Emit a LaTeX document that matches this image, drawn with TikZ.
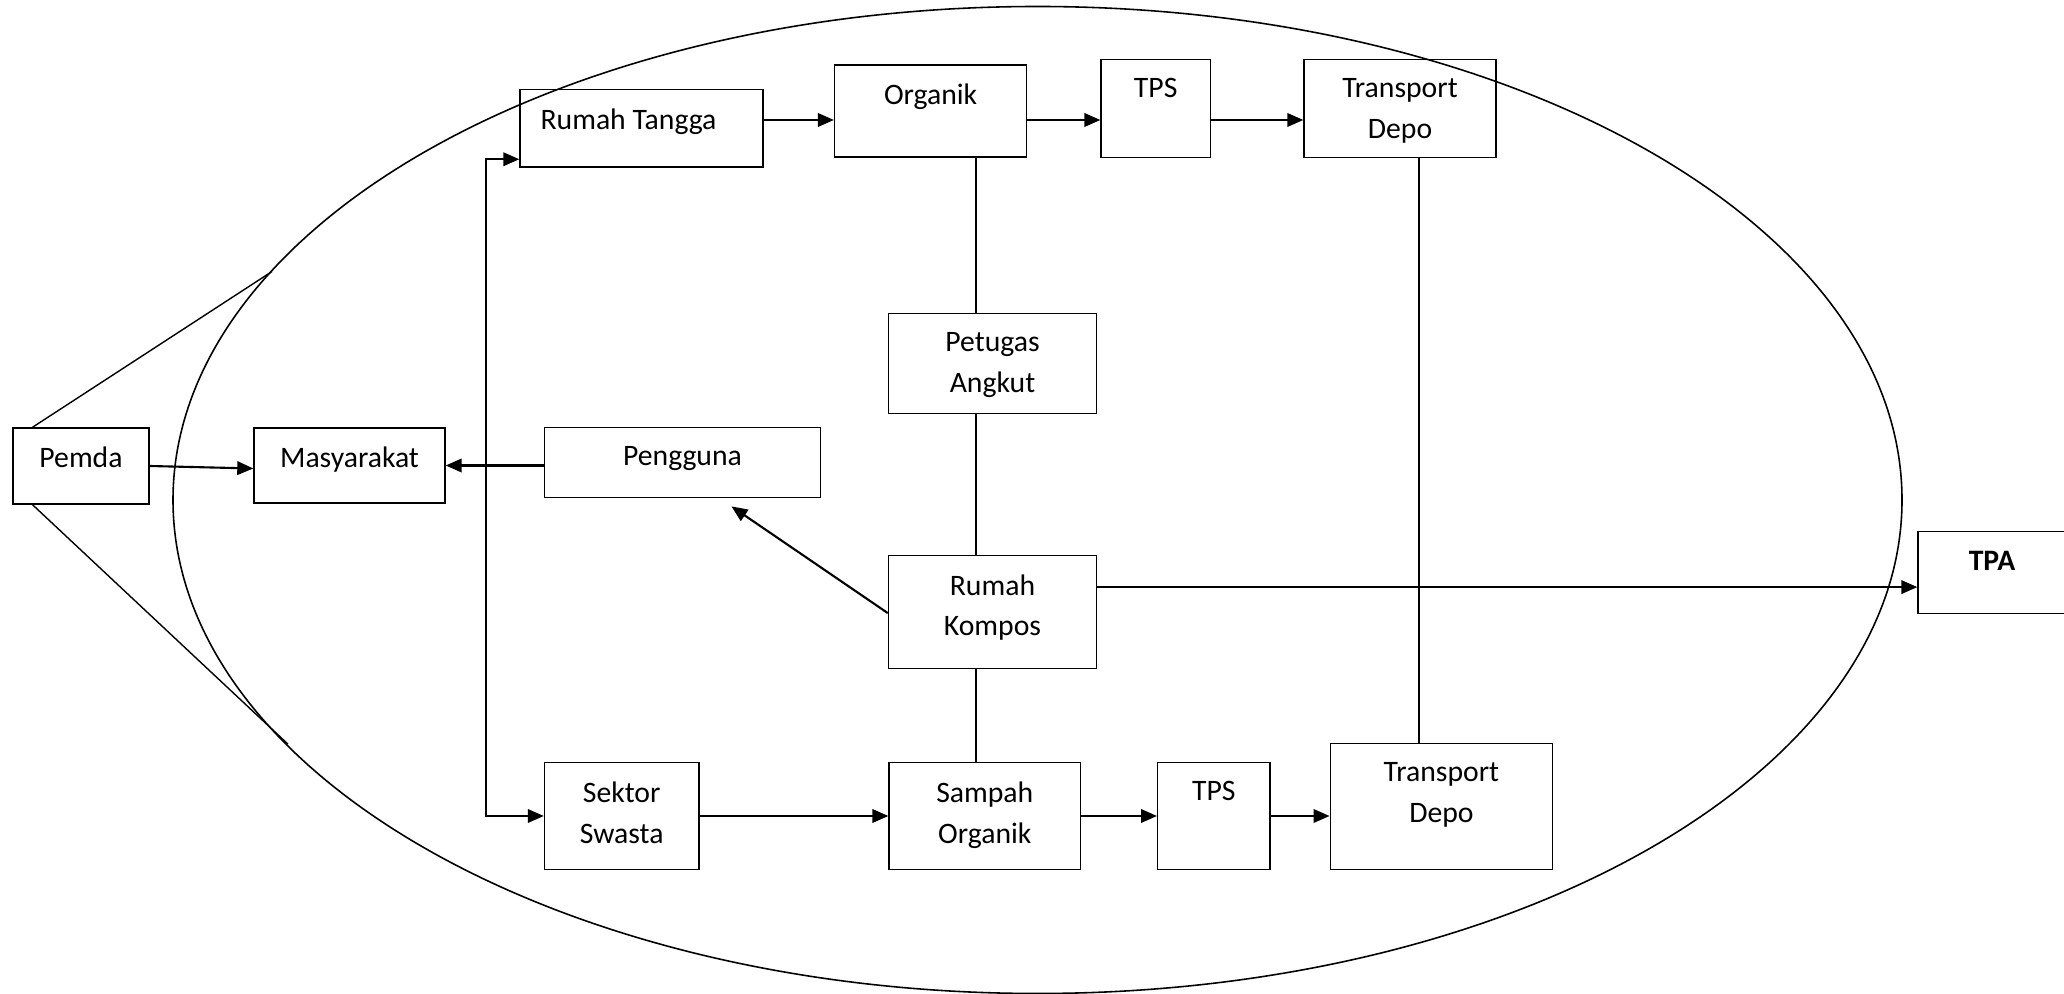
\documentclass[tikz,border=0pt]{standalone}
\usepackage{fontspec}
\setmainfont{Carlito}
\usetikzlibrary{arrows.meta}

\begin{document}
\begin{tikzpicture}[x=1cm,y=-1cm,
 font=\fontsize{8.45}{11.6}\selectfont,
 box/.style={draw,line width=0.4pt,inner sep=0pt},
 % Text hangs from the top edge of each box, like a word-processor frame.
 txt/.style={anchor=north,align=center,inner sep=0pt,yshift=-1.9mm},
 flow/.style={-{Triangle[length=1.6mm,width=1.35mm]},line width=0.6pt},
 link/.style={line width=0.4pt}]
\useasboundingbox (0,0) rectangle (20.64,9.94);

% Boundary of the composting system; boxes stay unfilled so it shows through.
\draw[line width=0.45pt] (10.375,5.0) ellipse [x radius=8.645,y radius=4.935];

\node[box,minimum width=1.36cm,minimum height=0.76cm,
 label={[txt]north:Pemda}] (pemda) at (0.81,4.66) {};
\node[box,minimum width=1.91cm,minimum height=0.75cm,
 label={[txt]north:Masyarakat}] (masy) at (3.495,4.655) {};
\node[box,minimum width=2.43cm,minimum height=0.775cm,
 label={[txt,xshift=-1.3mm]north:Rumah Tangga}] (rumah) at (6.415,1.2825) {};
\node[box,minimum width=1.92cm,minimum height=0.92cm,
 label={[txt]north:Organik}] (organik) at (9.306,1.11) {};
\node[box,minimum width=1.093cm,minimum height=0.98cm,
 label={[txt]north:TPS}] (tpsa) at (11.557,1.083) {};
\node[box,minimum width=1.92cm,minimum height=0.98cm,
 label={[txt]north:{Transport\\Depo}}] (depa) at (14.0,1.083) {};
\node[box,minimum width=2.08cm,minimum height=1.0cm,
 label={[txt]north:{Petugas\\Angkut}}] (petugas) at (9.925,3.633) {};
\node[box,minimum width=2.76cm,minimum height=0.70cm,
 label={[txt]north:Pengguna}] (pengguna) at (6.825,4.627) {};
\node[box,minimum width=2.08cm,minimum height=1.13cm,
 label={[txt]north:{Rumah\\Kompos}}] (kompos) at (9.925,6.121) {};
\node[box,minimum width=1.48cm,minimum height=0.82cm,
 label={[txt]north:\textbf{TPA}}] (tpa) at (19.92,5.7275) {};
\node[box,minimum width=1.544cm,minimum height=1.066cm,
 label={[txt]north:{Sektor\\Swasta}}] (sektor) at (6.217,8.16) {};
\node[box,minimum width=1.915cm,minimum height=1.066cm,
 label={[txt]north:{Sampah\\Organik}}] (sampah) at (9.848,8.16) {};
\node[box,minimum width=1.122cm,minimum height=1.066cm,
 label={[txt]north:TPS}] (tpsb) at (12.138,8.16) {};
\node[box,minimum width=2.224cm,minimum height=1.26cm,
 label={[txt]north:{Transport\\Depo}}] (depb) at (14.414,8.063) {};

% Helper points for the shared rails.
\coordinate (toprow) at (0,1.20);
\coordinate (spine) at (9.76,0);
\coordinate (depo) at (14.19,0);
\coordinate (bus) at (4.857,4.66);
\coordinate (rimtop) at (2.72,2.715);
\coordinate (rimbot) at (2.878,7.44);

% Pemda reaches out to the system boundary.
\draw[link] ([xshift=-4.85mm]pemda.north) -- (rimtop);
\draw[link] ([xshift=-4.85mm]pemda.south) -- (rimbot);
\draw[flow] (pemda.east) -- ([yshift=-0.3mm]masy.west);
\draw[flow] (pengguna.west |- masy.east) -- (masy.east);
\draw[flow] (bus) |- ([yshift=-3.1mm]rumah.west);
\draw[flow] (bus) |- (sektor.west);

% Household stream.
\draw[flow] (rumah.east |- toprow) -- (organik.west |- toprow);
\draw[flow] (organik.east |- toprow) -- (tpsa.west |- toprow);
\draw[flow] (tpsa.east |- toprow) -- (depa.west |- toprow);

% Private-sector stream.
\draw[flow] (sektor.east) -- (sampah.west);
\draw[flow] (sampah.east) -- (tpsb.west);
\draw[flow] (tpsb.east) -- (tpsb.east -| depb.west);

\draw[link] (organik.south -| spine) -- (petugas.north -| spine);
\draw[link] (petugas.south -| spine) -- (kompos.north -| spine);
\draw[link] (kompos.south -| spine) -- (sampah.north -| spine);
\draw[link] (depa.south -| depo) -- (depb.north -| depo);

\draw[flow] ([yshift=2.5mm]kompos.east) -- ([yshift=2.5mm]kompos.east -| tpa.west);
\draw[flow] ([yshift=-0.1mm]kompos.west)
 -- ([xshift=4.9mm,yshift=-0.8mm]pengguna.south);
\end{tikzpicture}
\end{document}
